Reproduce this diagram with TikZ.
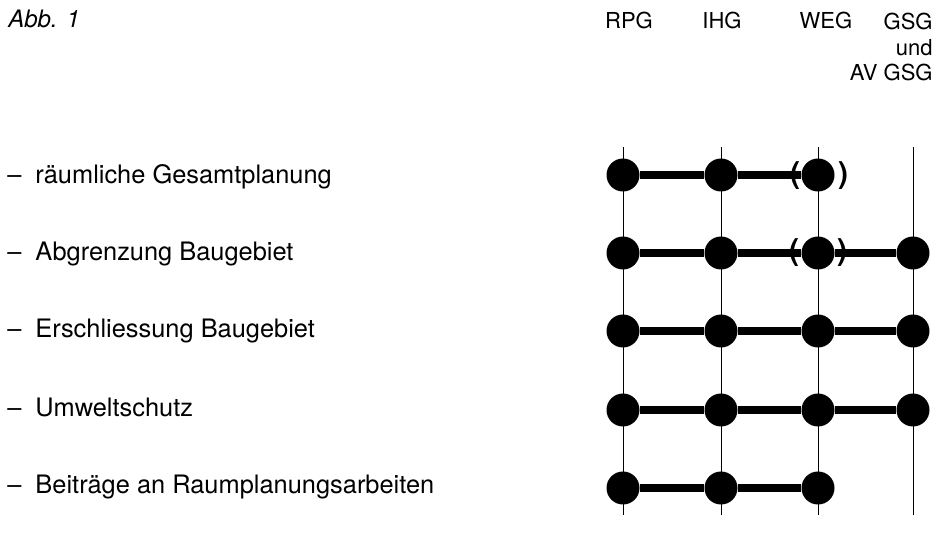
\documentclass[tikz,border=0pt]{standalone}
\usepackage{fontspec}
\setmainfont{TeX Gyre Heros}
\begin{document}
\begin{tikzpicture}[
  x=0.5pt, y=-0.5pt,
  dot/.style={circle, fill=black, inner sep=0pt, minimum size=16.5pt},
  bar/.style={line width=4pt},
  grid/.style={line width=0.5pt},
  head/.style={font=\fontsize{11}{12.75}\selectfont, inner sep=0pt},
  lbl/.style={anchor=base west, font=\fontsize{12.7}{15}\selectfont, inner sep=0pt},
  paren/.style={font=\fontsize{15}{15}\selectfont\bfseries, inner sep=0pt}
]
\useasboundingbox (0,0) rectangle (934,540);
\node[anchor=base west, font=\fontsize{12}{14}\selectfont\itshape, inner sep=0pt] (abb) at (8,28) {Abb. 1};
% Kopfzeile
\node[head, anchor=base] (rpg) at (629,29) {RPG};
\node[head, anchor=base] (ihg) at (722,29) {IHG};
\node[head, anchor=base] (weg) at (826,29) {WEG};
\node[head, anchor=north east, align=right] (gsg) at (933,13) {GSG\\und\\AV GSG};
% Senkrechte
\foreach \x [count=\i] in {623,721,818,913} {
  \coordinate (t\i) at (\x,147);
  \coordinate (b\i) at (\x,515);
  \draw[grid] (t\i) -- (b\i);
}
% Zeilen
\node[lbl] (l1) at (7,184) {--\hspace{0.55em}räumliche Gesamtplanung};
\node[lbl] (l2) at (7,261) {--\hspace{0.55em}Abgrenzung Baugebiet};
\node[lbl] (l3) at (7,338) {--\hspace{0.55em}Erschliessung Baugebiet};
\node[lbl] (l4) at (7,417) {--\hspace{0.55em}Umweltschutz};
\node[lbl] (l5) at (7,494) {--\hspace{0.55em}Beiträge an Raumplanungsarbeiten};
% Punkte
\node[dot] (r1a) at (623,175) {};
\node[dot] (r1b) at (721,175) {};
\node[dot] (r1c) at (818,175) {};
\node[dot] (r2a) at (623,253) {};
\node[dot] (r2b) at (721,253) {};
\node[dot] (r2c) at (818,253) {};
\node[dot] (r2d) at (913,253) {};
\node[dot] (r3a) at (623,331) {};
\node[dot] (r3b) at (721,331) {};
\node[dot] (r3c) at (818,331) {};
\node[dot] (r3d) at (913,331) {};
\node[dot] (r4a) at (623,410) {};
\node[dot] (r4b) at (721,410) {};
\node[dot] (r4c) at (818,410) {};
\node[dot] (r4d) at (913,410) {};
\node[dot] (r5a) at (623,488) {};
\node[dot] (r5b) at (721,488) {};
\node[dot] (r5c) at (818,488) {};
\draw[bar] (r1a) -- (r1b) -- (r1c);
\draw[bar] (r2a) -- (r2b) -- (r2c) -- (r2d);
\draw[bar] (r3a) -- (r3b) -- (r3c) -- (r3d);
\draw[bar] (r4a) -- (r4b) -- (r4c) -- (r4d);
\draw[bar] (r5a) -- (r5b) -- (r5c);
% Klammern
\node[paren] (k1l) at (795,176) {(};
\node[paren] (k1r) at (843,176) {)};
\node[paren] (k2l) at (794,253) {(};
\node[paren] (k2r) at (842,253) {)};
\end{tikzpicture}
\end{document}
